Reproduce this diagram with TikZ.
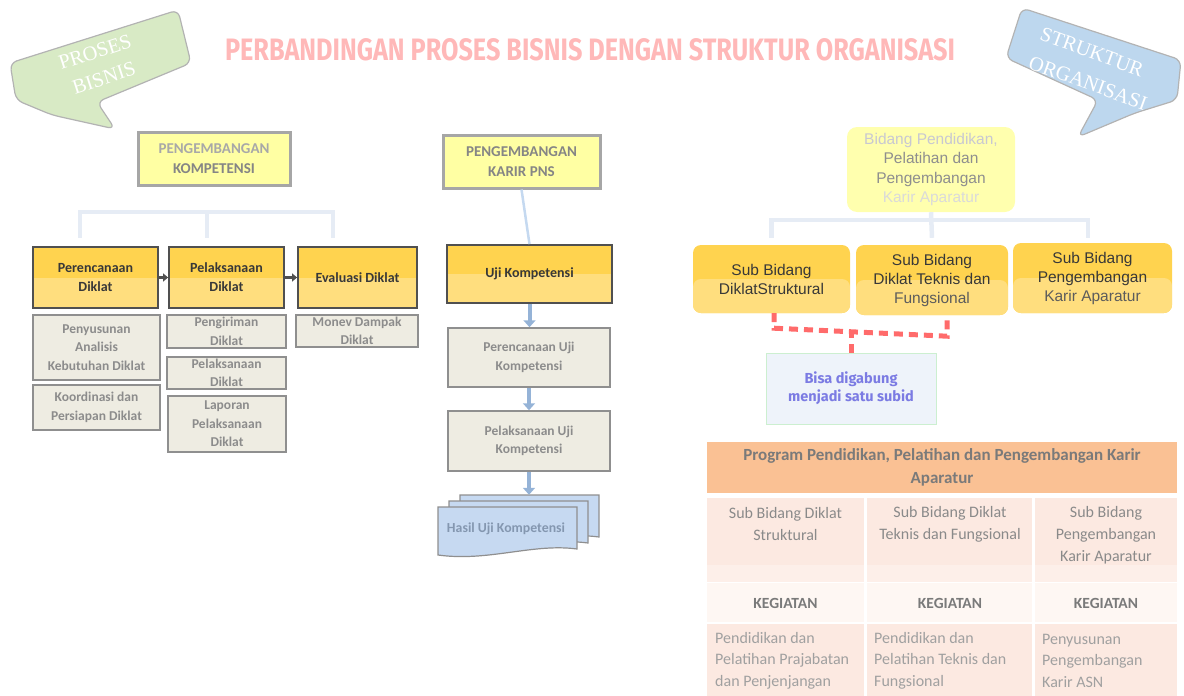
\documentclass[tikz,border=0pt]{standalone}
\usepackage{fontspec}
\usepackage{graphicx}
\setmainfont{Carlito}
\newfontfamily\arialfont{Liberation Sans}
\newfontfamily\seriffont{Liberation Serif}
\newfontfamily\roundfont{Fira Sans}
\usetikzlibrary{arrows.meta,calc}

\definecolor{titlepink}{HTML}{FFB8B8}
\definecolor{callgreen}{HTML}{D8EAC5}
\definecolor{callblue}{HTML}{BDD7EE}
\definecolor{calledge}{HTML}{B3B3B3}
\definecolor{paleyellow}{HTML}{FFFFA3}
\definecolor{topborder}{HTML}{A6A6A6}
\definecolor{toptext}{HTML}{858585}
\definecolor{topfaint}{HTML}{A8A8A8}
\definecolor{gold}{HTML}{FFD34F}
\definecolor{goldlight}{HTML}{FFDE7E}
\definecolor{darkborder}{HTML}{505050}
\definecolor{darktext}{HTML}{383838}
\definecolor{greyfill}{HTML}{EEECE2}
\definecolor{greyborder}{HTML}{8F8F8F}
\definecolor{greytext}{HTML}{8C8C8C}
\definecolor{arrowblue}{HTML}{95B3D7}
\definecolor{linkblue}{HTML}{C5D9F0}
\definecolor{bracketc}{HTML}{E6ECF5}
\definecolor{docblue}{HTML}{C6D9F1}
\definecolor{hasiltext}{HTML}{8497B0}
\definecolor{bidangfill}{HTML}{FFFFAE}
\definecolor{subfaint}{HTML}{5C5C5C}
\definecolor{redd}{HTML}{FF6B6B}
\definecolor{mergefill}{HTML}{EEF3FA}
\definecolor{mergeedge}{HTML}{CCEFD0}
\definecolor{mergetext}{HTML}{7B7BE3}
\definecolor{theadfill}{HTML}{FAC194}
\definecolor{theadtext}{HTML}{7A7A7A}
\definecolor{cellpink}{HTML}{FCE9E1}
\definecolor{cellband}{HTML}{FDEFE9}
\definecolor{cellkeg}{HTML}{FEF7F3}
\definecolor{celltext}{HTML}{8A8A8A}
\definecolor{bodytext}{HTML}{A0A0A0}

\begin{document}
\begin{tikzpicture}[x=1pt,y=-1pt,
  every node/.style={inner sep=0pt},
  topbox/.style={draw=topborder,line width=3pt,fill=paleyellow,align=center,
    text=toptext,font=\fontsize{15}{20}\selectfont\bfseries},
  goldshade/.style={fill=gold,path picture={\fill[goldlight]
    (path picture bounding box.west) rectangle (path picture bounding box.south east);}},
  orangebox/.style={goldshade,draw=darkborder,line width=1.8pt,align=center,
    text=darktext,font=\fontsize{14}{19}\selectfont\bfseries},
  greybox/.style={draw=greyborder,line width=1.5pt,fill=greyfill,align=center,
    text=greytext,font=\fontsize{13.5}{18.5}\selectfont\bfseries},
  darkarrow/.style={draw=darkborder,line width=3pt,-{Triangle[length=5pt,width=8pt]}},
  bluearrow/.style={draw=arrowblue,line width=4pt,-{Triangle[length=7pt,width=12pt]}},
  thinblue/.style={draw=linkblue,line width=2.5pt},
  bracket/.style={draw=bracketc,line width=4.5pt},
  docstyle/.style={fill=docblue,draw=greyborder,line width=1.2pt},
  bubbletext/.style={text=white,font=\seriffont\fontsize{20.5}{25}\selectfont},
  bidangbox/.style={fill=bidangfill,rounded corners=10pt,align=center,
    font=\arialfont\fontsize{15.5}{19.5}\selectfont},
  subbox/.style={goldshade,rounded corners=8pt,align=center,text=darktext,
    font=\arialfont\fontsize{15.5}{19}\selectfont},
  reddash/.style={draw=redd,line width=5pt,dash pattern=on 9pt off 6pt},
  mergebox/.style={fill=mergefill,draw=mergeedge,line width=1pt,align=center,
    text=mergetext,font=\roundfont\bfseries\fontsize{14.5}{18}\selectfont},
  thead/.style={fill=theadfill,align=center,text=theadtext,
    font=\fontsize{17}{23}\selectfont\bfseries},
  tcell/.style={align=center,text=celltext,font=\fontsize{16}{22}\selectfont},
  tkeg/.style={text=theadtext,font=\fontsize{15.5}{20}\selectfont\bfseries},
  tbody/.style={align=left,text=bodytext,font=\fontsize{16}{21.5}\selectfont}
]
\useasboundingbox (0,0) rectangle (1184,696);

% ---------- title ----------
\node[text=titlepink] (title) at (590,50)
  {\resizebox{730pt}{22pt}{\roundfont\bfseries PERBANDINGAN PROSES BISNIS DENGAN STRUKTUR ORGANISASI}};

% ---------- speech bubbles ----------
\filldraw[fill=callgreen,draw=calledge,line width=1.2pt,rounded corners=7pt]
  (10,63) -- (178,10) -- (191,63) -- (97,102) -- (115,129) -- (52,115) -- (16,100) -- cycle;
\node[bubbletext,rotate=18] (proses) at (95,52) {PROSES};
\node[bubbletext,rotate=18] (bisnis) at (104,78) {BISNIS};

\filldraw[fill=callblue,draw=calledge,line width=1.2pt,rounded corners=7pt]
  (1022,8) -- (1181,60) -- (1177,100) -- (1135,113) -- (1078,137) -- (1098,100) -- (1006,58) -- cycle;
\node[bubbletext,rotate=-20] (struk) at (1092,52) {STRUKTUR};
\node[bubbletext,rotate=-20] (organ) at (1088,83) {ORGANISASI};

% ---------- business process: competence development ----------
\node[topbox,minimum width=152pt,minimum height=53pt] (komp) at (214,158.5)
  {{\color{topfaint}PENGEMBANGAN}\\KOMPETENSI};

\coordinate (lbL) at (80,238);
\coordinate (lbM) at (207,238);
\coordinate (lbR) at (333,238);
\coordinate (lbTop) at (207,212);
\draw[bracket] (lbL) |- (lbTop) -| (lbR);
\draw[bracket] (lbTop) -- (lbM);

\node[orangebox,minimum width=125pt,minimum height=61pt] (perenc) at (95.5,277.5) {Perencanaan\\Diklat};
\node[orangebox,minimum width=115pt,minimum height=61pt] (pelak) at (226.5,277.5) {Pelaksanaan\\Diklat};
\node[orangebox,minimum width=119pt,minimum height=61pt] (evalu) at (357.5,277.5) {Evaluasi Diklat};
\draw[darkarrow] (perenc) -- (pelak);
\draw[darkarrow] (pelak) -- (evalu);

\node[greybox,minimum width=127pt,minimum height=65pt] (penyus) at (96.5,347.5) {Penyusunan\\Analisis\\Kebutuhan Diklat};
\node[greybox,minimum width=127pt,minimum height=45pt] (koord) at (96.5,407.5) {Koordinasi dan\\Persiapan Diklat};
\node[greybox,minimum width=119pt,minimum height=33pt] (pengir) at (226.5,331.5) {Pengiriman\\Diklat};
\node[greybox,minimum width=119pt,minimum height=32pt] (pelak2) at (226.5,373) {Pelaksanaan\\Diklat};
\node[greybox,minimum width=118pt,minimum height=56pt] (lapor) at (227,424) {Laporan\\Pelaksanaan\\Diklat};
\node[greybox,minimum width=122pt,minimum height=32pt] (monev) at (357,331) {Monev Dampak\\Diklat};

% ---------- business process: career development ----------
\node[topbox,minimum width=157pt,minimum height=53pt] (karir) at (521.5,161.5) {PENGEMBANGAN\\KARIR PNS};
\node[orangebox,minimum width=165pt,minimum height=58pt] (uji) at (529.5,274) {Uji Kompetensi};
\node[greybox,minimum width=162pt,minimum height=59pt] (perUji) at (529,357.5) {Perencanaan Uji\\Kompetensi};
\node[greybox,minimum width=162pt,minimum height=60pt] (pelUji) at (529,441) {Pelaksanaan Uji\\Kompetensi};

% stacked result documents
\foreach \dx/\dy in {22/-12, 11/-6, 0/0} {
  \begin{scope}[shift={(438+\dx,507+\dy)}]
    \filldraw[docstyle] (0,0) -- (139,0) -- (139,42)
      .. controls (95,36) and (50,55) .. (0,48) -- cycle;
  \end{scope}
}
\node[minimum width=162pt,minimum height=60pt] (hasilstack) at (519,525) {};
\node[text=hasiltext,font=\fontsize{13.8}{17}\selectfont\bfseries] (hasil) at (506,529) {Hasil Uji Kompetensi};

\draw[thinblue] (karir.south) -- (uji.north);
\draw[bluearrow] (uji.south) -- (uji.south |- perUji.north);
\draw[bluearrow] (perUji.south) -- (pelUji.north);
\draw[bluearrow] (pelUji.south) -- (pelUji.south |- hasilstack.north);

% ---------- organisation structure ----------
\node[bidangbox,minimum width=168pt,minimum height=85pt] (bidang) at (931,169.5)
  {{\color[HTML]{C8C8D2}Bidang Pendidikan,}\\{\color[HTML]{8E8E8E}Pelatihan dan}\\
   {\color[HTML]{8E8E8E}Pengembangan}\\{\color[HTML]{DADADA}Karir Aparatur}};

\node[subbox,minimum width=157pt,minimum height=68pt] (sub1) at (771.5,279) {Sub Bidang\\DiklatStruktural};
\node[subbox,minimum width=152pt,minimum height=70pt] (sub2) at (932,280) {Sub Bidang\\Diklat Teknis dan\\{\color{subfaint}Fungsional}};
\node[subbox,minimum width=159pt,minimum height=70pt] (sub3) at (1092.5,278) {Sub Bidang\\Pengembangan\\{\color{subfaint}Karir Aparatur}};

\draw[bracket] (bidang.south) -- ($(sub2.north)+(0,-7)$);
\draw[bracket] ($(sub1.north)+(0,-7)$) |- ($(sub3.north)+(-4.5,-23)$) -- ($(sub3.north)+(-4.5,-5)$);

\node[mergebox,minimum width=170pt,minimum height=71pt] (merge) at (851,388.5) {Bisa digabung\\menjadi satu subid};

\draw[reddash] ($(sub1.south)+(2.5,0)$) -- ++(0,15) -- ($(sub2.south)+(15,21)$) -- ($(sub2.south)+(15,0)$);
\draw[reddash] (merge.north) -- ++(0,-21);

% ---------- programme table ----------
\node[thead,minimum width=470pt,minimum height=51pt] (thead) at (942,467.5)
  {Program Pendidikan, Pelatihan dan Pengembangan Karir\\Aparatur};

\foreach \xa/\xb in {707/864, 867/1032, 1035/1177} {
  \fill[cellpink] (\xa,498) rectangle (\xb,565);
  \fill[cellband] (\xa,565) rectangle (\xb,582);
  \fill[cellkeg] (\xa,583) rectangle (\xb,622);
  \fill[cellpink] (\xa,624) rectangle (\xb,696);
}

\node[tcell] (r1c1) at (785.5,524) {Sub Bidang Diklat\\Struktural};
\node[tcell] (r1c2) at (950,524) {Sub Bidang Diklat\\Teknis dan Fungsional};
\node[tcell] (r1c3) at (1106,535) {Sub Bidang\\Pengembangan\\Karir Aparatur};

\node[tkeg] (k1) at (785.5,603) {KEGIATAN};
\node[tkeg] (k2) at (950,603) {KEGIATAN};
\node[tkeg] (k3) at (1106,603) {KEGIATAN};

\node[tbody,anchor=west] (r3c1) at (715,660.5) {Pendidikan dan\\Pelatihan Prajabatan\\dan Penjenjangan};
\node[tbody,anchor=west] (r3c2) at (874,660.5) {Pendidikan dan\\Pelatihan Teknis dan\\Fungsional};
\node[tbody,anchor=west] (r3c3) at (1042,660.5) {Penyusunan\\Pengembangan\\Karir ASN};

\end{tikzpicture}
\end{document}
